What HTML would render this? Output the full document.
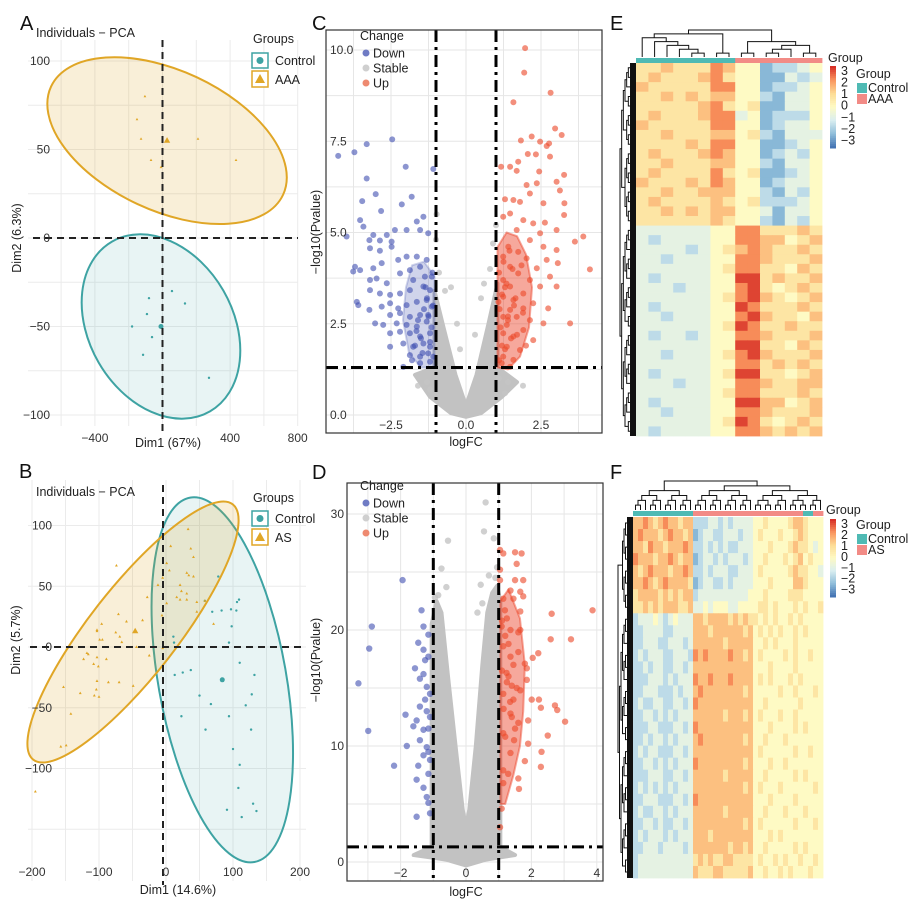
<!DOCTYPE html>
<html><head><meta charset="utf-8"><style>
html,body{margin:0;padding:0;background:#fff;}
svg{display:block;font-family:"Liberation Sans",Arial,sans-serif;}
.tk{font-size:12px;fill:#333;}
.ttl{font-size:12.5px;fill:#222;}
.lt{font-size:20px;fill:#111;}
.lg{font-size:12.5px;fill:#222;}
</style></head><body>
<svg id="fig" width="914" height="907" viewBox="0 0 914 907">
<g id="gA"></g>
<g id="gB"></g>
<g id="gC"></g>
<g id="gD"></g>
<g id="gE"></g>
<g id="gF"></g>

<text class="lt" x="20" y="30">A</text>
<text class="lt" x="19" y="478">B</text>
<text class="lt" x="312" y="30">C</text>
<text class="lt" x="312" y="479">D</text>
<text class="lt" x="610" y="30">E</text>
<text class="lt" x="610" y="479">F</text>

<text class="ttl" x="36" y="37">Individuals − PCA</text>
<text class="ttl" x="168" y="447" text-anchor="middle">Dim1 (67%)</text>
<text class="ttl" transform="translate(21,238) rotate(-90)" text-anchor="middle">Dim2 (6.3%)</text>
<g>
<text class="lg" x="253" y="43">Groups</text>
<rect x="252" y="53" width="16" height="15" fill="#fff" stroke="#3ea3a3" stroke-width="1.5"/>
<circle cx="260" cy="60.5" r="3.5" fill="#3ea3a3"/>
<text class="lg" x="275" y="65">Control</text>
<rect x="252" y="71" width="16" height="16" fill="#fff" stroke="#e0a626" stroke-width="1.5"/>
<polygon points="260,74 265,83 255,83" fill="#e0a626"/>
<text class="lg" x="275" y="84">AAA</text>
</g>

<text class="ttl" x="36" y="496">Individuals − PCA</text>
<text class="ttl" x="178" y="894" text-anchor="middle">Dim1 (14.6%)</text>
<text class="ttl" transform="translate(20,640) rotate(-90)" text-anchor="middle">Dim2 (5.7%)</text>
<g>
<text class="lg" x="253" y="502">Groups</text>
<rect x="252" y="511" width="16" height="15" fill="#fff" stroke="#3ea3a3" stroke-width="1.5"/>
<circle cx="260" cy="518.5" r="3.5" fill="#3ea3a3"/>
<text class="lg" x="275" y="523">Control</text>
<rect x="252" y="529" width="16" height="16" fill="#fff" stroke="#e0a626" stroke-width="1.5"/>
<polygon points="260,532 265,541 255,541" fill="#e0a626"/>
<text class="lg" x="275" y="542">AS</text>
</g>

<text class="ttl" x="466" y="446" text-anchor="middle">logFC</text>
<text class="ttl" transform="translate(320,232) rotate(-90)" text-anchor="middle">−log10(Pvalue)</text>
<text class="ttl" x="466" y="896" text-anchor="middle">logFC</text>
<text class="ttl" transform="translate(320,660) rotate(-90)" text-anchor="middle">−log10(Pvalue)</text>

<g>
<text class="lg" x="828" y="62">Group</text>
<text class="lg" x="856" y="78">Group</text>
<rect x="857" y="83" width="10" height="10" fill="#4fbab4"/>
<text class="lg" x="868" y="92">Control</text>
<rect x="857" y="94" width="10" height="10" fill="#f28b86"/>
<text class="lg" x="868" y="103">AAA</text>
</g>
<g>
<text class="lg" x="826" y="514">Group</text>
<text class="lg" x="856" y="529">Group</text>
<rect x="857" y="534" width="10" height="10" fill="#4fbab4"/>
<text class="lg" x="868" y="543">Control</text>
<rect x="857" y="545" width="10" height="10" fill="#f28b86"/>
<text class="lg" x="868" y="554">AS</text>
</g>
</svg>
<script>
// ---------------- DATA ----------------
const aControlX = [56,-80,133,-92,-180,-62,-115,275];
const aControlY = [-30,-34,-37,-43,-50,-56,-66,-79];
const aAaaX = [-104,-151,-127,-68,-9,210,435];
const aAaaY = [80,67,56,44,40,56,44];
const aMeans = [[-9,-50],[27,55]];
const aXTicks = [-400,400,800];
const aYTicks = [100,50,0,-50,-100];
const bControlX = [78,58,69,83,97,106,109,105,98,11,12,94,13,25,37,110,132,50,67,119,128,23,59,94,127,100,110,108,91,113,130,135];
const bControlY = [58,38,29,30,31,37,39,30,17,8.5,3.6,3.6,-23,-21,-19,-13,-23,-40,-47,-48,-39,-57,-68,-57,-68,-84,-97,-116,-134,-140,-129,-135];
const bAsX = [33,37,41,7,1,5,31,34,41,21,23,31,16,21,31,46,58,-5,-12,-74,-28,-71,-35,-59,-96,-103,-103,-75,-69,-99,-95,-66,-44,-118,-116,-123,-103,-89,-108,-101,-103,-104,-86,-70,-49,-153,-128,-107,-100,-142,-149,-157,-195,-6,1,-5,-25,71,46];
const bAsY = [97,81,74,83,69,63,61,59,58,51,46,44,41,39,39,37,38,57,51,67,41,27,22,21,19,14,13,12,8.5,6,6,4,0,-5,-6,-10,-8.5,-10,-14,-16,-28,-35,-29,-29,-32,-33,-38,-40,-41,-55,-81,-82,-119,26,36,-1,-7,19,29];
const bMeans = [[84,-27],[-46,13]];
const bXTicks = [-200,-100,0,100,200];
const bYTicks = [100,50,0,-50,-100];
const cDownX = [-4.26,-3.72,-3.31,-2.46,-2.01,-1.09,-3.31,-3.01,-3.46,-1.81,-2.14,-2.83,-3.53,-3.42,-3.09,-2.64,-2.37,-1.98,-1.64,-1.42,-1.53,-1.26,-3.98,-3.22,-2.87,-2.48,-3.2,-2.87,-2.48,-3.7,-3.53,-3.76,-3.09,-2.81,-2.26,-1.98,-1.64,-1.31,-1.87,-1.53,-3.2,-2.98,-2.64,-2.2,-1.76,-1.37,-1.14,-3.2,-2.87,-2.53,-2.2,-1.87,-1.42,-1.2,-3.64,-3.59,-3.22,-2.81,-2.53,-2.26,-1.98,-1.64,-1.31,-1.14,-2.53,-2.2,-1.87,-1.53,-1.26,-3.03,-2.76,-2.31,-1.98,-1.64,-1.31,-2.53,-2.2,-1.87,-1.53,-1.2,-2.53,-2.09,-1.76,-1.42,-1.2,-1.87,-1.53,-1.26,-2.09,-1.53,-1.2,-1.09,-1.6,-1.4,-1.3,-1.15,-1.7,-1.5,-1.25,-1.1,-1.8,-1.45,-1.2,-1.65,-1.35,-1.12];
const cDownY = [7.1,7.2,7.42,7.55,6.8,6.74,6.48,6.05,5.86,5.98,5.77,5.59,5.34,5.16,4.93,4.93,5.07,5.07,5.3,5.43,5.07,4.98,4.89,4.79,4.78,4.75,4.57,4.5,4.61,4.06,3.97,3.93,4.02,4.16,4.25,4.34,4.34,4.25,3.97,4.06,3.7,3.74,3.61,3.88,3.7,3.79,3.79,3.42,3.33,3.29,3.33,3.42,3.52,3.42,3.1,3.01,2.88,2.97,3.06,2.92,3.01,3.1,3.15,2.97,2.74,2.79,2.69,2.74,2.74,2.51,2.47,2.51,2.47,2.42,2.56,2.24,2.28,2.24,2.15,2.24,1.87,1.96,1.87,1.96,1.87,1.64,1.6,1.69,1.32,1.42,1.46,1.6,2.6,2.9,3.2,2.4,1.9,2.1,2.7,3.0,1.5,1.7,2.0,2.3,3.5,3.9];
const cUpX = [1.97,1.94,2.82,1.58,2.97,3.19,2.19,1.83,2.47,2.77,2.69,2.06,2.33,2.8,1.74,1.47,1.17,2.44,1.69,3.27,3.02,2.02,2.36,3.13,2.13,1.3,1.58,1.8,2.58,3.28,3.27,1.24,1.47,1.91,2.24,2.63,1.69,3.02,3.91,3.63,2.47,2.13,1.41,1.74,2.58,3.02,1.24,2.02,2.69,3.06,4.13,1.47,2.36,1.74,2.8,1.24,2.13,1.47,2.47,3.02,1.91,1.24,1.58,2.24,1.47,1.91,2.74,1.24,1.69,2.13,1.36,2.58,3.47,1.91,1.24,1.58,2.24,1.36,1.8,1.24,1.58,1.47,1.19,1.1,1.3,1.5,1.15,1.4,1.6,1.2,1.35,1.1,1.25,1.45,1.7,1.12,1.3,1.55,1.2,1.4,1.65,1.08,1.9,2.0,1.85];
const cUpY = [10.05,9.38,8.83,8.57,7.85,7.67,7.63,7.52,7.49,7.44,7.37,7.15,7.14,7.08,6.94,6.8,6.8,6.67,6.69,6.58,6.39,6.3,6.35,6.15,6.07,5.91,5.89,5.84,5.8,5.8,5.48,5.43,5.52,5.34,5.25,5.27,5.07,5.07,4.89,4.75,4.98,4.79,4.61,4.47,4.61,4.52,4.34,4.29,4.25,4.16,3.99,4.06,4.02,3.88,3.79,3.7,3.7,3.52,3.52,3.52,3.33,3.24,3.15,3.06,2.88,2.92,2.92,2.69,2.69,2.6,2.47,2.51,2.51,2.33,2.24,2.15,2.05,1.87,1.78,1.6,1.51,1.32,1.42,1.5,1.8,2.1,2.4,2.7,3.0,3.3,3.6,3.9,4.2,4.5,2.2,2.9,3.5,4.0,1.9,2.6,3.2,3.1,2.8,1.9,4.1];
const cStableX = [-0.98,-1.0,-0.7,-0.5,-0.3,1.0,0.8,0.6,0.5,0.9,-1.3,-1.6,1.4,1.9,1.3,-0.9,-0.2,0.3,-1.2,1.1];
const cStableY = [5.5,4.8,3.4,3.5,2.5,5.2,4.0,3.6,3.2,4.7,0.9,0.8,0.9,0.8,0.6,3.9,1.8,2.2,0.7,1.0];
const cStableEnvX = [-1.7,-1.05,-1.05,-0.75,-0.35,0,0.35,0.75,1.05,1.05,1.7,1.2,0.5,0,-0.5,-1.2];
const cStableEnvY = [1.1,1.3,3.4,2.4,1.1,0.25,1.1,2.5,3.6,1.3,0.9,0.5,0.05,-0.05,0.05,0.5];
const cUpEnvX = [1.05,1.05,1.35,1.7,2.0,2.2,2.1,1.8,1.4];
const cUpEnvY = [1.3,4.6,5.0,4.9,4.4,3.5,2.4,1.6,1.25];
const cDownEnvX = [-1.05,-1.05,-1.4,-1.8,-2.0,-2.1,-1.9,-1.5];
const cDownEnvY = [1.3,3.8,4.2,4.1,3.5,2.6,1.7,1.3];
const cXTicks = [-2.5,0,2.5];
const cYTicks = [0,2.5,5,7.5,10];
const dDownX = [-1.94,-2.88,-2.96,-3.29,-2.99,-2.2,-1.85,-1.81,-1.36,-1.3,-1.46,-1.15,-1.3,-1.15,-1.56,-1.41,-1.2,-1.25,-1.41,-1.51,-1.61,-1.3,-1.15,-1.41,-1.2,-1.3,-1.46,-1.15,-1.51,-1.3,-1.2,-1.15,-1.51,-1.1,-1.1,-1.25,-1.1,-1.2,-1.3,-1.15,-1.1];
const dDownY = [24.3,20.3,18.4,15.4,11.3,8.3,12.7,10.0,21.7,20.3,18.9,19.6,18.3,17.7,16.7,15.8,15.1,14.0,13.4,12.2,11.7,11.4,11.5,10.5,9.9,9.2,8.3,7.6,7.1,6.4,5.6,5.1,3.9,4.2,14.5,17.4,12.5,13.0,16.2,9.5,8.8];
const dUpX = [1.04,1.14,1.5,1.7,1.55,1.04,1.04,1.5,1.75,1.36,1.66,1.14,1.45,1.75,1.19,1.66,2.62,3.87,1.09,1.36,1.66,2.59,3.21,2.21,2.04,1.8,1.86,1.14,1.36,1.6,1.24,1.86,1.66,1.14,1.45,2.01,2.23,2.72,2.79,2.29,3.03,1.36,1.6,1.9,1.14,1.47,1.9,2.5,2.31,2.29,1.8,1.36,1.14,1.6,1.29,1.62,1.14,1.09,1.04,1.2,1.3,1.45,1.1,1.25,1.55,1.35,1.15,1.4,1.5,1.2,1.3,1.1,1.6,1.25,1.4];
const dUpY = [26.9,26.6,26.7,26.6,25.7,25.2,24.3,24.3,24.3,23.4,23.3,22.7,22.7,22.9,21.7,21.6,21.4,21.7,20.3,20.0,20.0,19.2,19.2,18.0,17.6,17.1,16.7,18.6,17.7,18.1,16.3,15.7,14.8,14.5,14.0,14.0,14.0,13.5,13.1,13.3,12.1,12.8,12.0,12.2,11.1,10.5,10.2,10.9,9.5,8.2,8.7,9.4,7.9,7.2,7.6,6.3,6.8,4.6,3.0,19.5,18.8,17.0,16.5,15.5,15.0,13.8,13.2,12.5,11.5,10.8,16.0,20.8,19.8,21.0,15.2];
const dStableX = [0.6,0.55,-0.55,0.85,-0.75,0.7,-0.6,0.45,-0.85,0.5,-0.9,0.35,0.95,-0.95,0.9];
const dStableY = [31,28.5,27.7,27.9,25.3,24.7,23.7,23.9,23,22.3,20.4,21.5,25.4,22.8,24.5];
const dStableEnvX = [-1.6,-1.05,-1.05,-0.9,-0.75,-0.55,-0.3,-0.1,0,0.1,0.3,0.5,0.65,0.8,0.95,1.05,1.05,1.5,0.6,0,-0.6];
const dStableEnvY = [0.6,1.3,20.5,22.5,21.5,16,9.5,4.5,3,4.5,10,17,21.5,23.2,23.8,22.5,1.3,0.6,0.2,-0.3,0.2];
const dUpEnvX = [1.05,1.05,1.3,1.65,1.8,1.75,1.65,1.45,1.2];
const dUpEnvY = [5,22.5,23.5,21,17,13,10,7.5,5];
const dXTicks = [-2,0,2,4];
const dYTicks = [0,10,20,30];
const eCols = ["C","C","C","C","C","C","C","C","A","A","A","A","A","A","A"];
const eRows = [
"556555764412234","565556754411323","655555774412234","556565664421334","555556754511334",
"565556773412224","655555774412334","556555664521333","555565774411234","565556764412324",
"556555664421334","565555754511234","655565764412334","556556664421324","565555654522234",
"556565664431334","555555654421324",
"333333447755565","323333447766456","333323456765565","332333447765556","333333457755465",
"323333448856556","333233447854565","333333457865456","323333448755565","332333447865546",
"333333458755655","323323447765556","333333448855465","332333457865556","333333447756565",
"323333458855456","333233447765566","333333457755565","323333448866456","332333447765556",
"333333458754565","323333447765656"];
const fCols = ["C","C","C","C","C","C","C","C","C","C","C","C","S","S","S","S","S","S","S","S","S","S","S","S","S","S","S","S","S","S","S","S","S","S","C","C","S","S"];
const fRows = [
"66765676656622233232333344544445665444","67666567665612332233323345444544565444",
"66576656667622323232233344454445655434","76665667656612332323332344544454564544",
"65676665667622323332233345444445655443","66765676666512332232333344454444665444",
"56666565656623333333333444544445554444","55656566655633434443344445545444545445",
"23334323433366566665656554545445454444","22333322333366656666665645454544545444",
"22333223332366666656666644545444544444","23233322333276766667665645444454544544",
"22323322332366666666666644454444544444","22233323233376676667666645454445454444",
"22333222323367666666665644444544544454","23223322332376666666666644544444454444",
"22332323233366666656665645444544544444","22233222332376666666666644454444545444",
"22323323233367666666665644544454444444","23233222332366666666666645444444544544",
"22332323233376666666665644454454444444","22233322332366666656666644544444545444",
"23232323233366666666665645444544444454","22333222332376666666666644454444544444",
"23223323233366666656666644544454445444","22332322332366666666665645444444544454",
"23233323233366656666666644454544444444","22333233332366666665665644544444545444",
"23333333333356565566555545445454454454","23333333333365556655555644544545444544"];
const scaleTicks = [3,2,1,0,-1,-2,-3];

// ---------------- HELPERS ----------------
const NS = "http://www.w3.org/2000/svg";
function mk(tag, parent, attrs) {
  const e = document.createElementNS(NS, tag);
  for (const k in attrs) e.setAttribute(k, attrs[k]);
  parent.appendChild(e);
  return e;
}
const gA = document.getElementById('gA'), gB = document.getElementById('gB'),
      gC = document.getElementById('gC'), gD = document.getElementById('gD'),
      gE = document.getElementById('gE'), gF = document.getElementById('gF');
const TEAL = "#3ea3a3", GOLD = "#e0a626";

const ax = x => 162.5 + 0.169 * x, ay = y => 238 - 1.77 * y;
const bx = x => 166 + 0.67 * x, by = y => 647 - 1.215 * y;
const cx = x => 466 + 30 * x, cy = y => 415 - 36.5 * y;
const dx = x => 466 + 32.7 * x, dy = y => 862 - 11.6 * y;

function gridLine(g, x1, y1, x2, y2, col) {
  const l = mk('line', g, {x1:x1, y1:y1, x2:x2, y2:y2, stroke:col, 'stroke-width':1});
  
  
}
function tickText(g, x, y, s, anchor) {
  const t = mk('text', g, {x:x, y:y, 'text-anchor':anchor, class:'tk'});
  t.textContent = s;
  
  
}
function triangle(g, x, y, s, col) {
  return mk('polygon', g, {points:`${x},${y-s} ${x+s*0.9},${y+s*0.6} ${x-s*0.9},${y+s*0.6}`, fill:col});
}

// ---------------- PANEL A ----------------
(function(){
  for (let v = -600; v <= 800; v += 200) gridLine(gA, ax(v), 40, ax(v), 426, "#ebebeb");
  for (let v = -100; v <= 100; v += 25) gridLine(gA, 28, ay(v), 298, ay(v), "#ebebeb");
  let e1 = mk('ellipse', gA, {cx:ax(aMeans[1][0]), cy:ay(aMeans[1][1]), rx:128, ry:70, transform:`rotate(25 ${ax(aMeans[1][0])} ${ay(aMeans[1][1])})`, fill:GOLD, 'fill-opacity':0.18, stroke:GOLD, 'stroke-width':2});
  
  
  let e2 = mk('ellipse', gA, {cx:ax(aMeans[0][0]), cy:ay(aMeans[0][1]), rx:98, ry:72, transform:`rotate(60 ${ax(aMeans[0][0])} ${ay(aMeans[0][1])})`, fill:TEAL, 'fill-opacity':0.12, stroke:TEAL, 'stroke-width':2});
  
  
  for (let i = 0; i < aControlX.length; i++) {
    const c = mk('circle', gA, {cx:ax(aControlX[i]), cy:ay(aControlY[i]), r:1.2, fill:TEAL});
    
    
  }
  for (let i = 0; i < aAaaX.length; i++) {
    const t = triangle(gA, ax(aAaaX[i]), ay(aAaaY[i]), 1.5, GOLD);
    
    
  }
  const m0 = mk('circle', gA, {cx:ax(aMeans[0][0]), cy:ay(aMeans[0][1]), r:2.5, fill:TEAL});
  
  
  const m1 = triangle(gA, ax(aMeans[1][0]), ay(aMeans[1][1]), 3.5, GOLD);
  
  
  const h = mk('line', gA, {x1:33, y1:ay(0), x2:298, y2:ay(0), stroke:'#222', 'stroke-width':2, 'stroke-dasharray':'7,5'});
  
  
  const v = mk('line', gA, {x1:ax(0), y1:40, x2:ax(0), y2:432, stroke:'#222', 'stroke-width':2, 'stroke-dasharray':'7,5'});
  
  
  aXTicks.forEach(t => tickText(gA, ax(t), 442, t < 0 ? '−' + (-t) : String(t), 'middle'));
  aYTicks.forEach(t => tickText(gA, 50, ay(t) + 4, t < 0 ? '−' + (-t) : String(t), 'end'));
})();

// ---------------- PANEL B ----------------
(function(){
  for (let v = -200; v <= 200; v += 50) gridLine(gB, bx(v), 480, bx(v), 881, "#ebebeb");
  for (let v = -150; v <= 100; v += 50) gridLine(gB, 28, by(v), 306, by(v), "#ebebeb");
  const ccx = bx(bMeans[0][0]), ccy = by(bMeans[0][1]);
  let e2 = mk('ellipse', gB, {cx:ccx, cy:ccy, rx:185, ry:64, transform:`rotate(80 ${ccx} ${ccy})`, fill:TEAL, 'fill-opacity':0.12, stroke:TEAL, 'stroke-width':2});
  
  
  const acx = 133, acy = 632;
  let e1 = mk('ellipse', gB, {cx:acx, cy:acy, rx:162, ry:44, transform:`rotate(-52 ${acx} ${acy})`, fill:GOLD, 'fill-opacity':0.18, stroke:GOLD, 'stroke-width':2});
  
  
  for (let i = 0; i < bControlX.length; i++) {
    const c = mk('circle', gB, {cx:bx(bControlX[i]), cy:by(bControlY[i]), r:1.2, fill:TEAL});
    
    
  }
  for (let i = 0; i < bAsX.length; i++) {
    const t = triangle(gB, bx(bAsX[i]), by(bAsY[i]), 1.6, GOLD);
    
    
  }
  const m0 = mk('circle', gB, {cx:ccx, cy:ccy, r:2.5, fill:TEAL});
  
  
  const m1 = triangle(gB, bx(bMeans[1][0]), by(bMeans[1][1]), 3.5, GOLD);
  
  
  const h = mk('line', gB, {x1:30, y1:by(0), x2:306, y2:by(0), stroke:'#222', 'stroke-width':2, 'stroke-dasharray':'7,5'});
  
  
  const v = mk('line', gB, {x1:163, y1:485, x2:163, y2:885, stroke:'#222', 'stroke-width':2, 'stroke-dasharray':'7,5'});
  
  
  bXTicks.forEach(t => tickText(gB, bx(t), 876, t < 0 ? '−' + (-t) : String(t), 'middle'));
  bYTicks.forEach(t => tickText(gB, 52, by(t) + 4, t < 0 ? '−' + (-t) : String(t), 'end'));
})();

// ---------------- VOLCANO ----------------
function volcano(g, fx, fy, box, gx, gy, down, up, stab, envS, envU, envD, xt, yt, fmt, r, labelsInside, legY) {
  for (const v of gx) gridLine(g, fx(v), box[1], fx(v), box[3], "#e6e6e6");
  for (const v of gy) gridLine(g, box[0], fy(v), box[2], fy(v), "#e6e6e6");
  function env(ex, ey, col, op, sw, name) {
    const pts = ex.map((x, i) => fx(x) + ',' + fy(ey[i])).join(' ');
    const p = mk('polygon', g, {points:pts, fill:col, 'fill-opacity':op, stroke:col, 'stroke-opacity':op, 'stroke-width':sw, 'stroke-linejoin':'round'});
    
    
  }
  env(envS[0], envS[1], '#c2c2c2', 1, 4, 'stable-density-region');
  if (envD) env(envD[0], envD[1], '#4452b0', 0.25, 2, 'down-density-region');
  env(envU[0], envU[1], '#ea3f24', 0.45, 2, 'up-density-region');
  for (let i = 0; i < stab[0].length; i++) {
    const c = mk('circle', g, {cx:fx(stab[0][i]), cy:fy(stab[1][i]), r:r, fill:'#c4c4c4', 'fill-opacity':0.8});
    
    
  }
  for (let i = 0; i < down[0].length; i++) {
    const c = mk('circle', g, {cx:fx(down[0][i]), cy:fy(down[1][i]), r:r, fill:'#3f4fb0', 'fill-opacity':0.6});
    
    
  }
  for (let i = 0; i < up[0].length; i++) {
    const c = mk('circle', g, {cx:fx(up[0][i]), cy:fy(up[1][i]), r:r, fill:'#ec4a2c', 'fill-opacity':0.62});
    
    
  }
  const dash = '12,5,3,5';
  const l1 = mk('line', g, {x1:fx(-1), y1:box[1], x2:fx(-1), y2:box[3], stroke:'#000', 'stroke-width':3, 'stroke-dasharray':dash});
  
  
  const l2 = mk('line', g, {x1:fx(1), y1:box[1], x2:fx(1), y2:box[3], stroke:'#000', 'stroke-width':3, 'stroke-dasharray':dash});
  
  
  const l3 = mk('line', g, {x1:box[0], y1:fy(1.3), x2:box[2], y2:fy(1.3), stroke:'#000', 'stroke-width':3, 'stroke-dasharray':dash});
  
  
  const fr = mk('rect', g, {x:box[0], y:box[1], width:box[2]-box[0], height:box[3]-box[1], fill:'none', stroke:'#333', 'stroke-width':1.2});
  
  
  xt.forEach(t => tickText(g, fx(t), box[3] - 4, fmt(t), 'middle'));
  yt.forEach(t => tickText(g, labelsInside, fy(t) + 4, fmt(t), labelsInside > box[0] ? 'start' : 'end'));
  const lg = mk('g', g, {});
  
  
  const tt = mk('text', lg, {x:360, y:legY, class:'lg'});
  tt.textContent = 'Change';
  
  
  [['Down', '#6f7bc4'], ['Stable', '#cfcfcf'], ['Up', '#ee8a70']].forEach((it, i) => {
    const d = mk('circle', lg, {cx:366, cy:legY + 13 + 15 * i, r:3.5, fill:it[1]});
    
    
    const t = mk('text', lg, {x:373, y:legY + 17.5 + 15 * i, class:'lg'});
    t.textContent = it[0];
    
    
  });
}
volcano(gC, cx, cy, [326, 30, 602, 433],
  [-3.75,-2.5,-1.25,0,1.25,2.5,3.75], [0,1.25,2.5,3.75,5,6.25,7.5,8.75,10],
  [cDownX, cDownY], [cUpX, cUpY], [cStableX, cStableY],
  [cStableEnvX, cStableEnvY], [cUpEnvX, cUpEnvY], [cDownEnvX, cDownEnvY],
  cXTicks, cYTicks, t => (t < 0 ? '−' : '') + Math.abs(t).toFixed(1), 3, 330, 40);
volcano(gD, dx, dy, [347, 483, 603, 881],
  [-3,-2,-1,0,1,2,3,4], [0,5,10,15,20,25,30],
  [dDownX, dDownY], [dUpX, dUpY], [dStableX, dStableY],
  [dStableEnvX, dStableEnvY], [dUpEnvX, dUpEnvY], null,
  dXTicks, dYTicks, t => (t < 0 ? '−' : '') + Math.abs(t), 3.2, 344, 490);

// ---------------- HEATMAPS ----------------
const stops = [[-3,[69,117,180]],[-2,[145,191,219]],[-1,[218,238,240]],[0,[254,250,196]],[1,[253,220,150]],[2,[250,150,95]],[3,[215,48,39]]];
function colorOf(v) {
  v = Math.max(-3, Math.min(3, v));
  for (let i = 0; i < stops.length - 1; i++) {
    if (v <= stops[i+1][0]) {
      const t = (v - stops[i][0]) / (stops[i+1][0] - stops[i][0]);
      const c = stops[i][1].map((a, k) => Math.round(a + (stops[i+1][1][k] - a) * t));
      return `rgb(${c[0]},${c[1]},${c[2]})`;
    }
  }
  return 'rgb(215,48,39)';
}
function balanced(a, b) { if (a === b) return a; const m = Math.floor((a + b) / 2); return [balanced(a, m), balanced(m + 1, b)]; }
function depth(n) { return Array.isArray(n) ? 1 + Math.max(depth(n[0]), depth(n[1])) : 0; }
function dendro(g, tree, pos, base, top, vertical) {
  const H = depth(tree), unit = (base - top) / H;
  function rec(n) {
    if (!Array.isArray(n)) return [pos(n), base];
    const a = rec(n[0]), b = rec(n[1]);
    const h = base - unit * depth(n);
    const d = vertical
      ? `M${a[0]},${a[1]}V${h}H${b[0]}V${b[1]}`
      : `M${a[1]},${a[0]}H${h}V${b[0]}H${b[1]}`;
    const p = mk('path', g, {d:d, fill:'none', stroke:'#111', 'stroke-width':1});
    
    
    return [(a[0] + b[0]) / 2, h];
  }
  rec(tree);
}
function heatmap(g, rows, cols, x0, x1, y0, y1, annY, colTree, colTop, rowSplit, rowLeft, legend) {
  const nC = cols.length, nR = rows.length;
  const cw = (x1 - x0) / nC, rh = (y1 - y0) / nR;
  for (let r = 0; r < nR; r++) {
    for (let c = 0; c < nC; c++) {
      const v = (parseInt(rows[r][c]) - 4) * 0.7;
      const cell = mk('rect', g, {x:(x0 + c * cw).toFixed(2), y:(y0 + r * rh).toFixed(2), width:(cw + 0.4).toFixed(2), height:(rh + 0.4).toFixed(2), fill:colorOf(v)});
      
      
    }
  }
  for (let c = 0; c < nC; c++) {
    const a = mk('rect', g, {x:(x0 + c * cw).toFixed(2), y:annY, width:(cw + 0.4).toFixed(2), height:5, fill:cols[c] === 'C' ? '#4fbab4' : '#f28b86'});
    
    
  }
  dendro(g, colTree, i => x0 + (i + 0.5) * cw, annY - 1, colTop, true);
  const rowTree = [balanced(0, rowSplit - 1), balanced(rowSplit, nR - 1)];
  dendro(g, rowTree, i => y0 + (i + 0.5) * rh, x0 - 6, rowLeft, false);
  const st = mk('rect', g, {x:x0 - 6, y:y0, width:6, height:y1 - y0, fill:'#111'});
  
  
  const [lx, ly, lh] = legend;
  for (let k = 0; k < 40; k++) {
    const s = mk('rect', g, {x:lx, y:ly + k * lh / 40, width:6, height:lh / 40 + 0.5, fill:colorOf(3 - 6 * k / 39)});
    
    
  }
  scaleTicks.forEach((t, i) => {
    const tx = mk('text', g, {x:lx + 11, y:ly + 9 + i * (lh - 8) / 6.4, class:'lg'});
    tx.textContent = t < 0 ? '−' + (-t) : String(t);
    
    
  });
}
const eColTree = [[[0,[1,[2,[3,[4,5]]]]],[6,7]],[[8,9],[[[10,11],12],[13,14]]]];
heatmap(gE, eRows, eCols, 636, 822, 63, 436, 58, eColTree, 30, 17, 620, [830, 66, 82]);
const fColTree = [balanced(0, 11), [balanced(12, 23), balanced(24, 37)]];
heatmap(gF, fRows, fCols, 633, 823, 517, 878, 511, fColTree, 481, 8, 618, [830, 519, 78]);
</script>
</body></html>
